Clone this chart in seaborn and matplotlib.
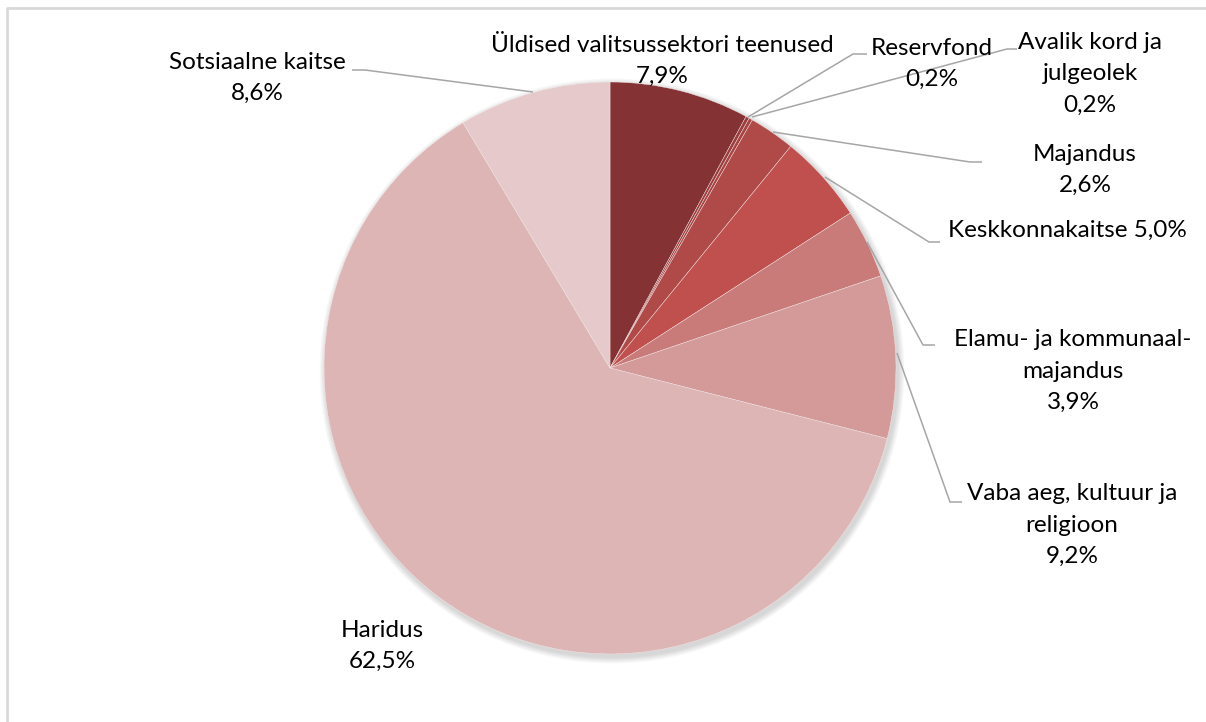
import matplotlib
matplotlib.use("Agg")
import matplotlib.pyplot as plt
import seaborn as sns

sns.set_theme(style="white")
plt.rcParams['font.family'] = ['Lato', 'DejaVu Sans']

# shares of expenditure by function, clockwise from 12 o'clock
categories = ["Üldised valitsussektori teenused", "Reservfond", "Avalik kord ja julgeolek",
              "Majandus", "Keskkonnakaitse", "Elamu- ja kommunaalmajandus",
              "Vaba aeg, kultuur ja religioon", "Haridus", "Sotsiaalne kaitse"]
shares = [7.9, 0.2, 0.2, 2.6, 5.0, 3.9, 9.2, 62.5, 8.6]
label_texts = ["Üldised valitsussektori teenused\n7,9%", "Reservfond\n0,2%",
               "Avalik kord ja\njulgeolek\n0,2%", "Majandus\n2,6%",
               "Keskkonnakaitse 5,0%", "Elamu- ja kommunaal-\nmajandus\n3,9%",
               "Vaba aeg, kultuur ja\nreligioon\n9,2%", "Haridus\n62,5%",
               "Sotsiaalne kaitse\n8,6%"]
colors = ["#843234", "#9C3E3E", "#A84442", "#B04A48", "#C0504D",
          "#C97B7A", "#D49A99", "#DDB5B5", "#E6C9CA"]

W, H = 1206, 722
fig = plt.figure(figsize=(W / 100, H / 100), dpi=100)
ax = fig.add_axes([0, 0, 1, 1])

cx, cy, r = 610, 368, 286

# soft shadow
for k in range(8):
    ax.add_patch(plt.Circle((cx + 2, cy + 3), r + 1 + k * 0.8, color="#000000",
                            alpha=0.018, lw=0, zorder=1))

# y axis is inverted (pixel coords), so start at -90 and counterclock=True
# gives a clockwise pie starting at 12 o'clock on screen
ax.pie(shares, colors=colors, startangle=-90, counterclock=True, center=(cx, cy),
       radius=r, frame=True, wedgeprops=dict(linewidth=0.3, edgecolor="#f4e8e8",
                                              zorder=2))
ax.set_xlim(0, W)
ax.set_ylim(H, 0)
ax.set_aspect("equal")
ax.axis("off")

# label positions (text centres) and leader lines
label_pos = [(662, 61), (932, 64), (1090, 74), (1085, 170), (1067, 230),
             (1073, 371), (1072, 525), (382, 646), (257, 78)]
leaders = [None,
           [(867, 54), (853, 54), (748, 117)],
           [(1017, 49), (1007, 49), (752, 117)],
           [(982, 162), (970, 162), (773, 132)],
           [(940, 242), (929, 242), (825, 177)],
           [(935, 345), (923, 345), (867, 242)],
           [(962, 502), (950, 502), (897, 353)],
           None,
           [(352, 70), (365, 70), (533, 92)]]

for txt, (x, y), ln in zip(label_texts, label_pos, leaders):
    if ln is not None:
        xs, ys = zip(*ln)
        ax.plot(xs, ys, color="#A6A6A6", lw=1.1, zorder=3, solid_capstyle="butt")
    ax.text(x, y, txt, ha="center", va="center", fontsize=17.5, color="#000000",
            linespacing=1.6, zorder=4)

# chart frame
ax.plot([7, 7, W + 5], [H + 5, 8, 8], color="#D9D9D9", lw=2, zorder=5, clip_on=False)

fig.savefig("out.png", dpi=100)
